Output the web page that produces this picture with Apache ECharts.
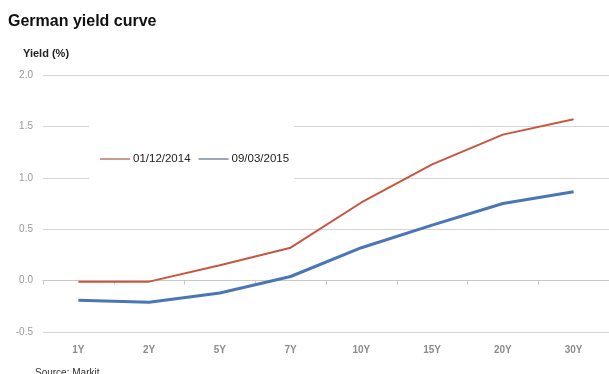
<!DOCTYPE html>
<html>
<head>
<meta charset="utf-8">
<script src="https://cdn.jsdelivr.net/npm/echarts@6/dist/echarts.min.js"></script>
<style>
html,body{margin:0;padding:0;background:#fff;}
#c{width:609px;height:374px;}
</style>
</head>
<body>
<div id="c"></div>
<script>
const categories = ['1Y','2Y','5Y','7Y','10Y','15Y','20Y','30Y'];
const series2014 = [-0.01, -0.01, 0.15, 0.32, 0.76, 1.13, 1.42, 1.57];
const series2015 = [-0.19, -0.21, -0.12, 0.04, 0.32, 0.54, 0.75, 0.865];
const seriesNames = ['01/12/2014', '09/03/2015'];
const yTicks = { min: -0.5, max: 2.0, interval: 0.5 };

const chart = echarts.init(document.getElementById('c'), null, {renderer:'canvas'});
const font = 'Arial, "Liberation Sans", sans-serif';
chart.setOption({
  animation: false,
  backgroundColor: '#fff',
  title: [
    { text: 'German yield curve', left: 3, top: 9,
      textStyle: { fontFamily: font, fontSize: 16, fontWeight: 'bold', color: '#111' } },
    { text: 'Yield (%)', left: 18, top: 43,
      textStyle: { fontFamily: font, fontSize: 11, fontWeight: 'bold', color: '#222' } },
    { text: 'Source: Markit', left: 30, top: 363,
      textStyle: { fontFamily: font, fontSize: 10, fontWeight: 'normal', color: '#333' } }
  ],
  legend: {
    left: 89, top: 122,
    backgroundColor: '#fff',
    padding: [31, 5, 16, 11],
    itemWidth: 30, itemHeight: 2, itemGap: 8,
    icon: 'rect',
    textStyle: { fontFamily: font, fontSize: 11.5, color: '#222', padding: [0,0,0,-2] },
    data: [
      { name: seriesNames[0], itemStyle: { color: '#cc9a92' } },
      { name: seriesNames[1], itemStyle: { color: '#9aa8b8' } }
    ],
    z: 10
  },
  grid: { left: 43, right: -1, top: 75, bottom: 42 },
  xAxis: [
    { type: 'category', data: categories, boundaryGap: true, position: 'bottom',
      axisLine: { show: false, onZero: false }, axisTick: { show: false },
      axisLabel: { fontFamily: font, fontSize: 10, fontWeight: 'bold', color: '#8c8c8c', margin: 13 } },
    { type: 'category', data: categories, boundaryGap: true, position: 'bottom',
      axisLine: { show: true, onZero: true, lineStyle: { color: '#c8c8c8', width: 1 } },
      axisTick: { show: true, length: 4, lineStyle: { color: '#c8c8c8' } },
      axisLabel: { show: false } }
  ],
  yAxis: {
    type: 'value', min: yTicks.min, max: yTicks.max, interval: yTicks.interval,
    axisLine: { show: false }, axisTick: { show: false },
    axisLabel: { fontFamily: font, fontSize: 10, color: '#999', margin: 10,
      formatter: v => v.toFixed(1) },
    splitLine: { lineStyle: { color: '#d6d6d6', width: 1 } }
  },
  series: [
    { name: seriesNames[0], type: 'line', data: series2014, showSymbol: false, symbol: 'none',
      xAxisIndex: 0, lineStyle: { color: '#c8553f', width: 2 }, itemStyle: { color: '#c8553f' }, z: 3 },
    { name: seriesNames[1], type: 'line', data: series2015, showSymbol: false, symbol: 'none',
      xAxisIndex: 0, lineStyle: { color: '#4a76b4', width: 3 }, itemStyle: { color: '#4a76b4' }, z: 3 }
  ]
});
</script>
</body>
</html>
